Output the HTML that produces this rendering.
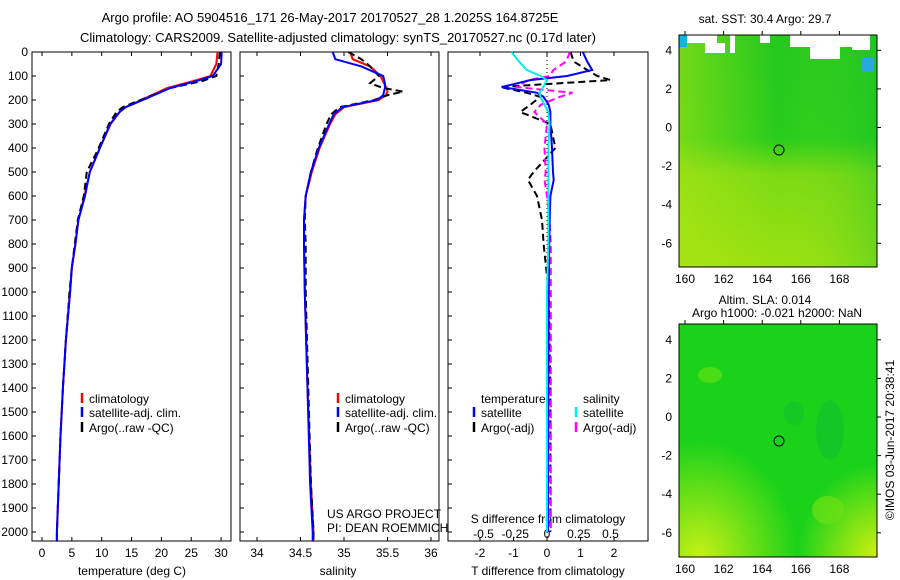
<!DOCTYPE html>
<html><head><meta charset="utf-8">
<style>
html,body{margin:0;padding:0;background:#fff;}
svg{display:block;font-family:"Liberation Sans",sans-serif;}
text{font-size:12px;fill:#000;}
</style></head>
<body>
<svg id="fig" width="900" height="580" viewBox="0 0 900 580">
<defs>
<linearGradient id="g1" x1="0" y1="0" x2="0" y2="1">
<stop offset="0" stop-color="#22c81e"/><stop offset="0.45" stop-color="#28cc1c"/><stop offset="0.6" stop-color="#7ada14"/><stop offset="1" stop-color="#9ae012"/>
</linearGradient>
<linearGradient id="g1h" x1="0" y1="0" x2="1" y2="0">
<stop offset="0" stop-color="#b4e614" stop-opacity="0.55"/><stop offset="0.5" stop-color="#b4e614" stop-opacity="0"/><stop offset="1" stop-color="#10c030" stop-opacity="0.3"/>
</linearGradient>
<radialGradient id="y1" cx="0.1" cy="1" r="0.5"><stop offset="0" stop-color="#c8f014"/><stop offset="1" stop-color="#c8f014" stop-opacity="0"/></radialGradient>
<radialGradient id="y2" cx="1" cy="1" r="0.4"><stop offset="0" stop-color="#d0f010"/><stop offset="1" stop-color="#d0f010" stop-opacity="0"/></radialGradient>
</defs>
<text x="330" y="22" text-anchor="middle" style="font-size:13px">Argo profile: AO 5904516_171 26-May-2017 20170527_28 1.2025S 164.8725E</text>
<text x="338" y="42" text-anchor="middle" style="font-size:13px">Climatology: CARS2009. Satellite-adjusted climatology: synTS_20170527.nc (0.17d later)</text>
<g id="p1"></g>
<g id="p2"></g>
<g id="p3"></g>

<g>
<text x="765" y="23" text-anchor="middle">sat. SST: 30.4  Argo: 29.7</text>
<rect x="679" y="35" width="198" height="232" fill="url(#g1)"/>
<rect x="679" y="35" width="198" height="232" fill="url(#g1h)"/>
<rect x="679" y="35" width="8" height="12" fill="#10b4e0"/>
<rect x="687" y="35" width="30" height="8" fill="#fff"/><rect x="705" y="43" width="20" height="10" fill="#fff"/>
<rect x="730" y="35" width="5" height="18" fill="#fff"/><rect x="760" y="35" width="10" height="8" fill="#fff"/>
<rect x="790" y="35" width="62" height="12" fill="#fff"/><rect x="810" y="47" width="30" height="12" fill="#fff"/>
<rect x="852" y="35" width="18" height="15" fill="#fff"/>
<rect x="862" y="58" width="12" height="14" fill="#28a8e0"/>
<circle cx="779" cy="150" r="5" fill="none" stroke="#000" stroke-width="1"/>
<rect x="679" y="35" width="198" height="232" fill="none" stroke="#000"/>
<g id="m1ticks"></g>
</g>

<g>
<text x="765" y="304" text-anchor="middle">Altim. SLA: 0.014</text>
<text x="777" y="317" text-anchor="middle">Argo h1000: -0.021 h2000: NaN</text>
<rect x="679" y="324" width="198" height="233" fill="#1ad21a"/>
<rect x="679" y="324" width="198" height="233" fill="url(#y1)"/>
<rect x="679" y="324" width="198" height="233" fill="url(#y2)"/>
<ellipse cx="830" cy="430" rx="14" ry="30" fill="#10c030" opacity="0.6"/>
<ellipse cx="794" cy="413" rx="10" ry="12" fill="#10c030" opacity="0.5"/>
<ellipse cx="710" cy="375" rx="12" ry="8" fill="#60e014" opacity="0.7"/>
<ellipse cx="828" cy="510" rx="16" ry="14" fill="#6ce014" opacity="0.7"/>
<circle cx="779" cy="441" r="5" fill="none" stroke="#000" stroke-width="1"/>
<rect x="679" y="324" width="198" height="233" fill="none" stroke="#000"/>
<g id="m2ticks"></g>
</g>
<text transform="translate(894,440) rotate(-90)" text-anchor="middle">©IMOS 03-Jun-2017 20:38:41</text>

<text x="327" y="518">US ARGO PROJECT</text>
<text x="327" y="532">PI: DEAN ROEMMICH</text>
</svg>
<script>
// ---- data ----
const tDepth = [0,50,100,120,150,200,230,250,300,400,500,600,700,800,900,1000,1200,1400,1600,1800,2000,2040];
const tClim  = [29.4,29.2,28.2,25.5,21,16.6,14,13,11.5,9.7,8.0,7.1,6.1,5.6,5.0,4.7,4.0,3.5,3.1,2.8,2.5,2.5];
const tSat   = [30.1,30,28.6,26,21.5,16.9,14,13,11.4,9.7,8.0,7.2,6.1,5.6,5.0,4.7,4.0,3.5,3.1,2.8,2.5,2.5];
const tArgo  = [29.8,29.6,29.2,27,21.5,16.5,13.5,12.5,11.2,9.5,7.5,7.0,6.0,5.5,5.0,4.6,4.0,3.5,3.1,2.8,2.5,2.5];
const sDepth = [0,30,60,100,130,150,165,180,200,230,260,300,400,500,600,700,800,1000,1400,1800,2000,2040];
const sClim  = [35.07,35.1,35.3,35.42,35.46,35.49,35.5,35.48,35.4,35.0,34.9,34.84,34.72,34.63,34.56,34.54,34.54,34.55,34.58,34.62,34.65,34.65];
const sSat   = [34.87,34.9,35.2,35.45,35.47,35.47,35.46,35.45,35.38,34.98,34.88,34.83,34.71,34.62,34.56,34.54,34.54,34.55,34.58,34.61,34.64,34.64];
const sArgo  = [35.05,35.2,35.3,35.4,35.3,35.45,35.68,35.5,35.35,34.95,34.85,34.8,34.70,34.62,34.56,34.55,34.56,34.56,34.59,34.62,34.65,34.65];
const dDepth = [0,40,75,100,117,146,170,187,220,250,300,400,500,533,600,700,800,1000,1400,1800,2000];
const dTSat  = [1.07,1.2,1.35,0.6,-0.5,-1.35,-0.3,-0.1,0.05,0.1,0.1,0.15,0.18,0.2,0.1,0.08,0.07,0.05,0.04,0.03,0.03];
const dSSat  = [-0.28,-0.22,-0.16,-0.05,0,-0.03,-0.06,-0.05,-0.02,0.01,0.02,0.01,0.01,0.01,0.01,0.01,0.01,0.0,0.0,0.0,0.0];
const dTArgo = [0.7,0.8,1.2,1.5,1.9,-1.4,-0.6,-0.2,-0.5,-0.8,0.1,0.25,-0.4,-0.57,-0.3,-0.15,-0.1,0.05,0.1,0.1,0.1];
const dSArgo = [0.18,0.15,0.05,0.02,-0.15,-0.24,0.2,0.1,-0.05,-0.1,0.0,-0.02,-0.01,-0.02,0.0,0.02,0.03,0.03,0.03,0.03,0.03];
const depthTicks = [0,100,200,300,400,500,600,700,800,900,1000,1100,1200,1300,1400,1500,1600,1700,1800,1900,2000];
const tTicks = [0,5,10,15,20,25,30];
const sTicks = [34,34.5,35,35.5,36];
const dtTicks = [-2,-1,0,1,2];
const dsTicks = [-0.5,-0.25,0,0.25,0.5];
const dsTickLabels = ["-0.5","-0.25","0","0.25","0.5"];
const latTicks = [4,2,0,-2,-4,-6];
const lonTicks = [160,162,164,166,168];

const NS="http://www.w3.org/2000/svg";
const fig=document.getElementById('fig');
function el(tag,attrs,parent,txt){const e=document.createElementNS(NS,tag);for(const k in attrs)e.setAttribute(k,attrs[k]);if(txt!==undefined)e.textContent=txt;(parent||fig).appendChild(e);return e;}
const Y=d=>52+d*0.24;
const yTop=52,yBot=541;
const xT=v=>42+v*5.97;
const xS=v=>257+(v-34)*87;
const xDT=v=>547+v*33.5;
const xDS=v=>547+v*127;

function frame(g,x0,x1,name){
  const r=el('rect',{x:x0,y:yTop,width:x1-x0,height:yBot-yTop,fill:'none',stroke:'#000'},g);
  
  
  depthTicks.forEach(d=>{el('line',{x1:x0,x2:x0+4,y1:Y(d),y2:Y(d),stroke:'#000'},g);});
}
function line(g,xs,ys,xf,color,dash,name){
  const pts=xs.map((v,i)=>xf(v).toFixed(1)+','+Y(ys[i]).toFixed(1)).join(' ');
  const p=el('polyline',{points:pts,fill:'none',stroke:color,'stroke-width':2,'stroke-dasharray':dash||'none'},g);
  
  
}
function xticks(g,ticks,xf,labels,y){
  ticks.forEach((t,i)=>{el('line',{x1:xf(t),x2:xf(t),y1:yBot,y2:yBot-4,stroke:'#000'},g);el('line',{x1:xf(t),x2:xf(t),y1:yTop,y2:yTop+4,stroke:'#000'},g);
  const tx=el('text',{x:xf(t),y:y,'text-anchor':'middle'},g,labels?labels[i]:String(t));
  
  });
}
function legend(g,x,y,color,dash,label){
  el('line',{x1:x,x2:x,y1:y-10,y2:y,stroke:color,'stroke-width':2.5},g);
  const t=el('text',{x:x+7,y:y},g,label);
  
  
}
// Panel 1
const p1=document.getElementById('p1');
frame(p1,32,231,'temperature-axes');
depthTicks.forEach(d=>{const t=el('text',{x:28,y:Y(d)+4,'text-anchor':'end'},p1,String(d));
  
  });
xticks(p1,tTicks,xT,null,557);
el('text',{x:132,y:575,'text-anchor':'middle'},p1,'temperature (deg C)');
line(p1,tClim,tDepth,xT,'#f00',null,'temp-climatology-line');
line(p1,tArgo,tDepth,xT,'#000','7,4','temp-argo-line');
line(p1,tSat,tDepth,xT,'#00f',null,'temp-satellite-line');
legend(p1,82,403,'#f00','','climatology');
legend(p1,82,417,'#00f','','satellite-adj. clim.');
legend(p1,82,432,'#000','','Argo(..raw -QC)');
// Panel 2
const p2=document.getElementById('p2');
frame(p2,240,439,'salinity-axes');
xticks(p2,sTicks,xS,null,557);
el('text',{x:338,y:575,'text-anchor':'middle'},p2,'salinity');
line(p2,sClim,sDepth,xS,'#f00',null,'sal-climatology-line');
line(p2,sArgo,sDepth,xS,'#000','7,4','sal-argo-line');
line(p2,sSat,sDepth,xS,'#00f',null,'sal-satellite-line');
legend(p2,338,403,'#f00','','climatology');
legend(p2,338,417,'#00f','','satellite-adj. clim.');
legend(p2,338,432,'#000','','Argo(..raw -QC)');
// Panel 3
const p3=document.getElementById('p3');
frame(p3,448,648,'difference-axes');
dtTicks.forEach(t=>{el('line',{x1:xDT(t),x2:xDT(t),y1:yBot,y2:yBot-4,stroke:'#000'},p3);el('line',{x1:xDT(t),x2:xDT(t),y1:yTop,y2:yTop+4,stroke:'#000'},p3);
  const tx=el('text',{x:xDT(t),y:557,'text-anchor':'middle'},p3,String(t));
  
  });
dsTicks.forEach((t,i)=>{const tx=el('text',{x:xDS(t),y:538,'text-anchor':'middle'},p3,dsTickLabels[i]);
  
  });
el('text',{x:548,y:523,'text-anchor':'middle'},p3,'S difference from climatology');
el('text',{x:548,y:575,'text-anchor':'middle'},p3,'T difference from climatology');
el('line',{x1:547,x2:547,y1:yTop,y2:yBot,stroke:'#000','stroke-dasharray':'1,3'},p3);
line(p3,dTArgo,dDepth,xDT,'#000','7,4','t-diff-argo-line');
line(p3,dSArgo,dDepth,xDS,'#f0f','7,4','s-diff-argo-line');
line(p3,dTSat,dDepth,xDT,'#00f',null,'t-diff-satellite-line');
line(p3,dSSat,dDepth,xDS,'#0ee',null,'s-diff-satellite-line');
el('text',{x:481,y:403},p3,'temperature');
el('text',{x:583,y:403},p3,'salinity');
legend(p3,474,417,'#00f','','satellite');
legend(p3,474,432,'#000','','Argo(-adj)');
legend(p3,576,417,'#0ee','','satellite');
legend(p3,576,432,'#f0f','','Argo(-adj)');
// map ticks
function mapTicks(gid,x0,x1,y0,y1,lat0,latScale,lonY){
  const g=document.getElementById(gid);
  latTicks.forEach(l=>{const y=lat0-l*latScale;el('line',{x1:x1,x2:x1+4,y1:y,y2:y,stroke:'#000'},g);
    const t=el('text',{x:x0-7,y:y+4,'text-anchor':'end'},g,String(l));
    
    });
  lonTicks.forEach(l=>{const x=685+(l-160)*19.3;el('line',{x1:x,x2:x,y1:y0,y2:y0-4,stroke:'#000'},g);
    const t=el('text',{x:x,y:lonY,'text-anchor':'middle'},g,String(l));
    
    });
}
mapTicks('m1ticks',679,877,35,267,127.5,19.3,283);
mapTicks('m2ticks',679,877,324,557,417,19.3,573);
</script>
</body></html>
